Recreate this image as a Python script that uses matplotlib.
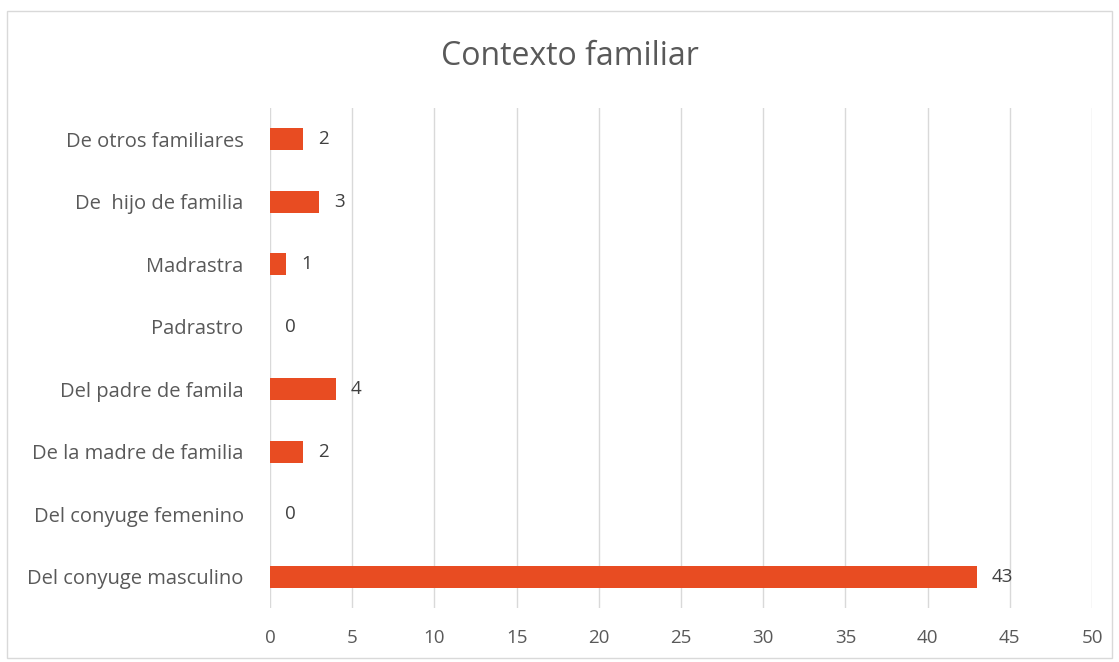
import matplotlib.pyplot as plt
from matplotlib.patches import Rectangle

# datos (de abajo hacia arriba)
categorias = ['Del conyuge masculino', 'Del conyuge femenino', 'De la madre de familia',
              'Del padre de famila', 'Padrastro', 'Madrastra', 'De  hijo de familia',
              'De otros familiares']
valores = [43, 0, 2, 4, 0, 1, 3, 2]
ticks_x = [0, 5, 10, 15, 20, 25, 30, 35, 40, 45, 50]

plt.rcParams['font.family'] = ['Open Sans', 'DejaVu Sans']

fig = plt.figure(figsize=(11.19, 6.62), dpi=100)
ax = fig.add_axes([0.2413, 0.0816, 0.7346, 0.7553])

ax.barh(range(len(categorias)), valores, height=0.35, color='#E84C22', zorder=3)
for i, v in enumerate(valores):
    ax.text(v + 0.9, i, str(v), va='center', ha='left', fontsize=13.5, color='#404040')

ax.set_xlim(0, 50)
ax.set_ylim(-0.5, len(categorias) - 0.5)
ax.set_xticks(ticks_x)
ax.set_yticks(range(len(categorias)))
ax.set_yticklabels(categorias)
ax.tick_params(axis='both', length=0, labelsize=14.5, labelcolor='#595959')
ax.tick_params(axis='y', pad=19)
ax.tick_params(axis='x', pad=15)
ax.tick_params(axis='x', labelsize=13.5)
ax.grid(axis='x', color='#D9D9D9', linewidth=1, zorder=0)
for s in ax.spines.values():
    s.set_visible(False)

fig.text(0.509, 0.915, 'Contexto familiar', ha='center', va='center',
         fontsize=23, color='#595959')

fig.patches.append(Rectangle((0.006, 0.006), 0.988, 0.978, transform=fig.transFigure,
                             fill=False, edgecolor='#D9D9D9', linewidth=1))

fig.savefig('out.png', dpi=100)
